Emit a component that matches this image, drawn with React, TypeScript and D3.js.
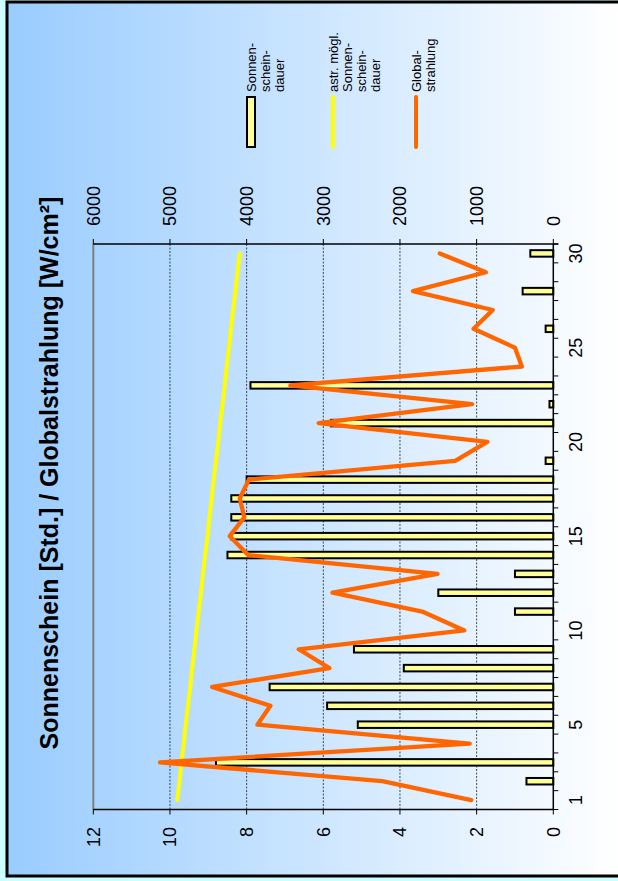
import React from "react";
import * as d3 from "d3";

const days = d3.range(1, 31);
const sunshine = [0, 0.7, 8.8, 0, 5.1, 5.9, 7.4, 3.9, 5.2, 0, 1.0, 3.0, 1.0, 8.5, 8.4, 8.4, 8.4, 8.0, 0.2, 0, 5.8, 0.1, 7.9, 0, 0, 0.2, 0, 0.8, 0, 0.6];
const astroPossible = [9.81, 9.75, 9.7, 9.64, 9.59, 9.53, 9.47, 9.42, 9.36, 9.31, 9.25, 9.19, 9.14, 9.08, 9.02, 8.97, 8.91, 8.86, 8.8, 8.74, 8.69, 8.63, 8.57, 8.52, 8.46, 8.41, 8.35, 8.29, 8.24, 8.18];
const globalRad = [1070, 2230, 5130, 1090, 3860, 3690, 4450, 2920, 3320, 1160, 1710, 2880, 1510, 3980, 4220, 4030, 4090, 3970, 1280, 860, 3060, 1060, 3430, 410, 500, 1040, 790, 1830, 880, 1480];
const leftTicks = [0, 2, 4, 6, 8, 10, 12];
const rightTicks = [0, 1000, 2000, 3000, 4000, 5000, 6000];
const catLabels = [1, 5, 10, 15, 20, 25, 30];
const legendItems = [
  { kind: "bar", lines: ["Sonnen-", "schein-", "dauer"] },
  { kind: "yellow", lines: ["astr. mögl.", "Sonnen-", "schein-", "dauer"] },
  { kind: "orange", lines: ["Global-", "strahlung"] },
];
const title = "Sonnenschein [Std.] / Globalstrahlung [W/cm²]";

const W = 881;
const FONT = "'Liberation Sans', Arial, sans-serif";

export default function App() {
  const plot = { left: 71.5, right: 637, top: 93.3, bottom: 553.3 };
  const x = d3.scaleBand<number>().domain(days).range([plot.left, plot.right]);
  const y = d3.scaleLinear().domain([0, 12]).range([plot.bottom, plot.top]);
  const y2 = d3.scaleLinear().domain([0, 6000]).range([plot.bottom, plot.top]);
  const cx = (d: number) => (x(d) as number) + x.bandwidth() / 2;
  const barW = 6.5;

  const yellowLine = d3.line<number>().x((_, i) => cx(days[i])).y((v) => y(v));
  const orangeLine = d3.line<number>().x((_, i) => cx(days[i])).y((v) => y2(v));

  const legendPos = [251, 333, 416];

  return (
    <svg width={618} height={881} style={{ position: "absolute", left: 0, top: 0, display: "block" }} fontFamily={FONT}>
      <defs>
        <linearGradient id="bg" x1="0" y1="0" x2="0" y2="1">
          <stop offset="0" stopColor="#99CCFF" />
          <stop offset="1" stopColor="#FFFFFF" />
        </linearGradient>
      </defs>
      <rect x={0} y={0} width={618} height={881} fill="#CCFFFF" />
      <g transform={`translate(0,${W}) rotate(-90)`}>
        <rect x={5} y={7} width={874} height={613} fill="url(#bg)" stroke="#000" strokeWidth={3} />
        {/* gridlines */}
        {leftTicks.filter((t) => t > 0 && t < 12).map((t) => (
          <line key={"g" + t} x1={plot.left} x2={plot.right} y1={y(t)} y2={y(t)} stroke="#000" strokeWidth={0.7} strokeDasharray="2,1.5" />
        ))}
        {/* plot border top (gray) */}
        <line x1={plot.left} x2={plot.right} y1={plot.top} y2={plot.top} stroke="#808080" strokeWidth={2} />
        {/* bars */}
        {sunshine.map((v, i) =>
          v > 0 ? (
            <rect key={"b" + i} x={cx(days[i]) - barW / 2} y={y(v)} width={barW} height={y(0) - y(v)} fill="#FFFF99" stroke="#000" strokeWidth={2} />
          ) : null
        )}
        <path d={yellowLine(astroPossible) as string} fill="none" stroke="#FFFF00" strokeWidth={4} strokeLinecap="round" />
        <path d={orangeLine(globalRad) as string} fill="none" stroke="#FF6600" strokeWidth={4.3} strokeLinejoin="round" strokeLinecap="round" />
        {/* axes */}
        <line x1={plot.left} x2={plot.left} y1={plot.top} y2={plot.bottom} stroke="#000" strokeWidth={1.5} />
        <line x1={plot.right} x2={plot.right} y1={plot.top} y2={plot.bottom + 5} stroke="#000" strokeWidth={1.5} />
        <line x1={plot.left} x2={plot.right} y1={plot.bottom} y2={plot.bottom} stroke="#000" strokeWidth={1.5} />
        {leftTicks.map((t) => (
          <g key={"lt" + t}>
            <line x1={plot.left - 5} x2={plot.left} y1={y(t)} y2={y(t)} stroke="#000" strokeWidth={1} />
            <text x={54} y={y(t) + 6.5} textAnchor="end" fontSize={18}>{t}</text>
          </g>
        ))}
        {rightTicks.map((t) => (
          <g key={"rt" + t}>
            <line x1={plot.right} x2={plot.right + 5} y1={y2(t)} y2={y2(t)} stroke="#000" strokeWidth={1} />
            <text x={655} y={y2(t) + 6.5} textAnchor="start" fontSize={18}>{t}</text>
          </g>
        ))}
        {d3.range(0, 31).map((k) => {
          const xx = plot.left + k * x.step();
          return <line key={"ct" + k} x1={xx} x2={xx} y1={plot.bottom} y2={plot.bottom + 5} stroke="#000" strokeWidth={1} />;
        })}
        {catLabels.map((c) => (
          <text key={"cl" + c} x={cx(c)} y={582} textAnchor="middle" fontSize={18}>{c}</text>
        ))}
        {/* title */}
        <text x={408} y={57.5} textAnchor="middle" fontSize={25} fontWeight="bold">{title}</text>
        {/* legend */}
        {legendItems.map((it, i) => {
          const m = legendPos[i];
          return (
            <g key={"lg" + i}>
              {it.kind === "bar" ? (
                <rect x={734} y={m - 4} width={50} height={8} fill="#FFFF99" stroke="#000" strokeWidth={2} />
              ) : (
                <line x1={734} x2={784} y1={m} y2={m} stroke={it.kind === "yellow" ? "#FFFF00" : "#FF6600"} strokeWidth={4} strokeLinecap="round" />
              )}
              {it.lines.map((l, k) => (
                <text key={k} x={789} y={m + 4.5 + 14 * k} fontSize={13}>{l}</text>
              ))}
            </g>
          );
        })}
      </g>
    </svg>
  );
}
